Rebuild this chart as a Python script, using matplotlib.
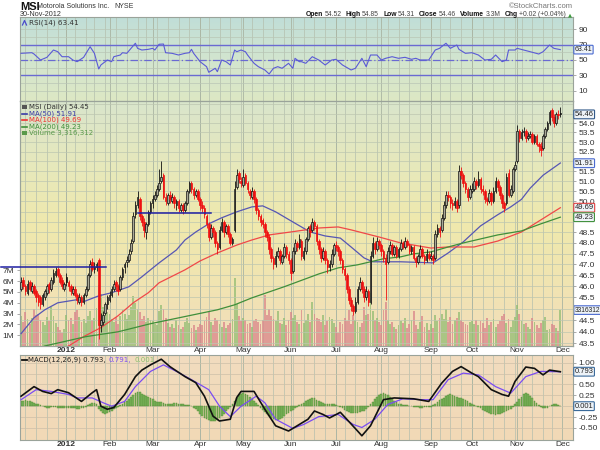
import numpy as np
import pandas as pd
import matplotlib
matplotlib.use('Agg')
import matplotlib.pyplot as plt
from matplotlib.patches import Rectangle
from matplotlib.lines import Line2D
from matplotlib.ticker import NullLocator

# ---- data (one value per trading day, Dec 2011 .. Nov 2012) ----
holidays = ['2011-12-26', '2012-01-02', '2012-01-16', '2012-02-20', '2012-04-06', '2012-05-28',
            '2012-07-04', '2012-09-03', '2012-10-29', '2012-10-30', '2012-11-22']

opens = [
    45.9, 46.3, 46.0, 45.7, 46.2, 45.8, 46.0, 45.8, 45.6, 45.5, 45.2, 45.5, 45.7, 46.1, 45.9, 46.2, 46.5, 46.8, 46.5, 46.3, 45.9,
    46.4, 46.2, 46.0, 45.7, 45.9, 45.6, 45.3, 45.5, 45.3, 45.6, 45.9, 46.5, 47.1, 46.8, 46.9, 47.2, 44.3, 44.4, 44.8, 45.2,
    45.4, 45.6, 45.9, 46.2, 46.0, 45.9, 46.4, 46.9, 47.1, 47.2, 47.6, 48.1, 49.4, 49.8, 50.1, 49.3, 49.0, 48.5, 48.9, 49.5,
    49.9, 50.1, 50.3, 50.6, 51.0, 51.3, 50.2, 49.9, 50.3, 50.0, 50.2, 49.8, 50.0, 49.6, 49.8, 49.6, 49.9, 50.5, 50.9, 50.6, 50.3, 50.5,
    50.1, 49.8, 49.7, 49.3, 48.9, 48.3, 48.7, 48.5, 48.0, 47.8, 48.6, 49.0, 48.5, 48.8, 48.4, 48.0, 48.6, 50.7, 51.4, 51.0,
    50.8, 51.3, 50.9, 50.5, 50.2, 50.5, 50.1, 49.6, 49.3, 49.1, 48.9, 48.5, 48.3, 47.7, 47.3, 47.0, 47.4, 47.6, 47.1, 47.4, 47.8, 47.5,
    47.2, 46.7, 47.6, 48.0, 47.8, 48.1, 47.3, 47.6, 48.2, 48.8, 48.6, 49.0, 48.8, 48.1, 47.7, 47.3, 47.6, 47.2, 46.9, 47.0, 47.5,
    47.9, 47.8, 47.6, 47.2, 46.8, 46.5, 45.9, 45.4, 45.1, 44.9, 45.3, 45.9, 46.2, 45.9, 45.5, 45.8, 45.3, 47.4, 48.0, 47.7, 48.1,
    47.9, 47.6, 47.3, 47.1, 47.6, 47.9, 47.5, 47.8, 47.4, 47.7, 48.0, 47.8, 48.1, 47.9, 47.6, 47.8, 47.3, 47.1, 47.4, 47.7, 47.4, 47.2, 47.5,
    47.3, 47.4, 47.3, 48.4, 48.7, 48.6, 49.2, 49.8, 50.3, 50.2, 49.9, 49.8, 50.0, 49.8, 51.5, 51.3, 50.9, 50.6, 50.2,
    50.5, 50.6, 51.0, 50.8, 51.1, 50.6, 50.5, 50.1, 50.0, 50.4, 50.0, 50.5, 51.0, 50.7, 50.3, 49.9, 49.9, 51.4, 50.3, 50.5, 51.6,
    52.0, 53.6, 53.2, 53.5, 53.6, 53.2, 53.3, 53.4, 53.0, 53.3, 52.9, 52.8, 52.7, 53.3, 53.7, 54.0, 54.7, 54.3, 54.0, 54.5, 54.52,
]
highs = [
    46.4, 46.4, 46.1, 46.3, 46.3, 46.2, 46.1, 45.9, 45.7, 45.6, 45.7, 45.9, 46.1, 46.2, 46.4, 46.8, 46.9, 46.9, 46.6, 46.4, 46.2,
    46.6, 46.3, 46.1, 46.0, 46.0, 45.7, 45.7, 45.6, 45.7, 46.0, 46.6, 47.2, 47.3, 47.1, 47.1, 47.3, 44.8, 44.9, 45.3, 45.6,
    45.8, 46.0, 46.3, 46.3, 46.1, 46.5, 46.9, 47.1, 47.4, 47.7, 48.2, 49.5, 50.0, 50.5, 50.2, 49.4, 49.2, 49.0, 49.6, 50.0,
    50.3, 50.5, 50.8, 51.6, 52.0, 51.4, 50.4, 50.4, 50.5, 50.4, 50.3, 50.1, 50.1, 49.9, 49.9, 50.0, 50.6, 51.0, 51.0, 50.7, 50.6, 50.6,
    50.2, 50.0, 49.8, 49.4, 49.0, 48.9, 48.8, 48.6, 48.1, 48.8, 49.2, 49.1, 48.9, 48.9, 48.5, 48.3, 51.0, 51.6, 51.5, 51.2,
    51.6, 51.4, 51.0, 50.6, 50.7, 50.6, 50.2, 49.7, 49.4, 49.2, 49.0, 48.6, 48.4, 47.8, 47.4, 47.6, 47.8, 47.7, 47.5, 48.0, 47.9, 47.6,
    47.3, 47.8, 48.2, 48.1, 48.4, 48.2, 47.8, 48.3, 48.8, 48.9, 49.2, 49.1, 48.9, 48.2, 47.8, 47.8, 47.7, 47.3, 47.2, 47.7, 48.0,
    48.1, 47.9, 47.7, 47.3, 46.9, 46.6, 46.0, 45.5, 45.2, 45.5, 46.0, 46.4, 46.3, 46.0, 46.0, 45.9, 47.6, 48.3, 48.1, 48.3, 48.2,
    48.0, 47.7, 47.5, 47.8, 48.1, 48.0, 47.9, 47.9, 47.8, 48.2, 48.1, 48.3, 48.2, 48.0, 47.9, 47.9, 47.4, 47.5, 47.9, 47.8, 47.5, 47.7, 47.6,
    47.6, 47.5, 48.6, 48.9, 48.8, 49.4, 50.0, 50.5, 50.5, 50.3, 50.1, 50.2, 50.1, 51.8, 51.7, 51.4, 51.0, 50.7, 50.8,
    50.9, 51.2, 51.1, 51.5, 51.2, 50.8, 50.6, 50.2, 50.6, 50.5, 50.7, 51.2, 51.1, 50.8, 50.4, 50.0, 51.4, 51.6, 50.8, 51.7, 52.0,
    53.9, 53.7, 53.7, 53.8, 53.7, 53.5, 53.6, 53.5, 53.4, 53.4, 53.0, 53.0, 53.4, 53.8, 54.1, 54.7, 54.8, 54.5, 54.6, 54.7, 54.85,
]
lows = [
    45.8, 45.9, 45.6, 45.6, 45.8, 45.7, 45.6, 45.3, 45.1, 45.0, 45.1, 45.4, 45.6, 45.7, 45.8, 46.1, 46.4, 46.4, 46.1, 45.9, 45.8,
    46.0, 45.8, 45.6, 45.6, 45.5, 45.2, 45.2, 45.1, 45.2, 45.5, 45.8, 46.4, 46.7, 46.6, 46.7, 43.7, 44.0, 44.3, 44.7, 45.0,
    45.3, 45.5, 45.8, 45.8, 45.6, 45.8, 46.3, 46.6, 46.9, 47.1, 47.5, 48.0, 49.2, 49.7, 49.1, 48.8, 48.3, 48.2, 48.8, 49.4,
    49.7, 50.0, 50.2, 50.5, 50.9, 50.1, 49.8, 49.8, 49.9, 49.9, 49.7, 49.6, 49.5, 49.5, 49.4, 49.5, 49.8, 50.4, 50.4, 50.1, 50.2, 50.0,
    49.6, 49.5, 49.2, 48.7, 48.1, 48.2, 48.3, 47.8, 47.5, 47.7, 48.5, 48.3, 48.4, 48.3, 47.9, 47.9, 48.5, 50.6, 50.9, 50.7,
    50.7, 50.8, 50.4, 50.1, 50.1, 49.9, 49.4, 49.1, 48.8, 48.7, 48.3, 48.1, 47.5, 47.1, 46.8, 46.9, 47.3, 47.0, 47.0, 47.3, 47.3, 47.0,
    46.3, 46.6, 47.5, 47.6, 47.7, 47.2, 47.2, 47.5, 48.1, 48.3, 48.5, 48.6, 47.9, 47.5, 47.1, 47.2, 47.0, 46.6, 46.7, 46.9, 47.4,
    47.6, 47.4, 47.0, 46.6, 46.3, 45.7, 45.2, 44.9, 44.7, 44.8, 45.2, 45.8, 45.7, 45.3, 45.4, 45.1, 45.2, 47.3, 47.5, 47.6, 47.7,
    47.4, 47.1, 45.4, 47.0, 47.5, 47.4, 47.4, 47.3, 47.3, 47.6, 47.7, 47.7, 47.8, 47.5, 47.5, 47.2, 46.9, 47.0, 47.3, 47.3, 47.0, 47.1, 47.2,
    47.2, 47.0, 47.2, 48.3, 48.3, 48.5, 49.1, 49.7, 50.0, 49.7, 49.6, 49.7, 49.5, 49.7, 51.1, 50.7, 50.4, 50.0, 50.1,
    50.4, 50.5, 50.6, 50.7, 50.4, 50.3, 49.9, 49.8, 49.9, 49.8, 49.9, 50.4, 50.5, 50.1, 49.7, 49.5, 49.8, 50.2, 50.2, 50.4, 51.5,
    51.9, 53.0, 53.1, 53.3, 53.0, 53.1, 53.2, 52.9, 52.9, 52.8, 52.5, 52.3, 52.6, 53.2, 53.6, 53.9, 54.1, 53.8, 53.9, 54.2, 54.31,
]
closes = [
    46.2, 46.0, 45.8, 46.1, 45.9, 46.0, 45.7, 45.5, 45.3, 45.2, 45.6, 45.8, 46.0, 45.9, 46.3, 46.6, 46.7, 46.5, 46.2, 46.0, 46.1,
    46.2, 46.0, 45.8, 45.9, 45.6, 45.4, 45.5, 45.3, 45.6, 45.9, 46.5, 47.0, 46.8, 46.9, 47.0, 44.3, 44.5, 44.7, 45.2, 45.5,
    45.6, 45.9, 46.1, 46.0, 45.8, 46.4, 46.8, 47.0, 47.2, 47.5, 48.0, 49.3, 49.8, 50.2, 49.3, 49.0, 48.6, 48.9, 49.5, 49.9,
    50.1, 50.3, 50.6, 50.9, 51.2, 50.2, 50.0, 50.3, 50.1, 50.2, 49.9, 50.0, 49.7, 49.8, 49.6, 49.9, 50.5, 50.9, 50.6, 50.3, 50.5, 50.1,
    49.8, 49.7, 49.4, 48.9, 48.3, 48.7, 48.5, 48.0, 47.7, 48.6, 49.0, 48.5, 48.8, 48.4, 48.0, 48.2, 50.6, 51.3, 51.1, 50.9,
    51.2, 50.9, 50.6, 50.3, 50.5, 50.1, 49.6, 49.3, 49.0, 48.9, 48.5, 48.3, 47.7, 47.3, 47.0, 47.4, 47.6, 47.2, 47.4, 47.8, 47.5, 47.2,
    46.6, 47.6, 48.0, 47.8, 48.2, 47.4, 47.6, 48.2, 48.7, 48.5, 49.0, 48.8, 48.1, 47.7, 47.3, 47.6, 47.2, 46.9, 47.0, 47.5, 47.9,
    47.8, 47.6, 47.2, 46.8, 46.5, 45.9, 45.4, 45.1, 44.9, 45.3, 45.9, 46.2, 45.9, 45.5, 45.8, 45.3, 47.4, 48.0, 47.7, 48.1, 47.9,
    47.6, 47.3, 47.0, 47.6, 47.9, 47.5, 47.8, 47.4, 47.7, 48.0, 47.8, 48.1, 47.9, 47.6, 47.8, 47.3, 47.1, 47.4, 47.7, 47.4, 47.2, 47.5, 47.3,
    47.4, 47.2, 48.4, 48.7, 48.5, 49.2, 49.8, 50.3, 50.2, 49.9, 49.8, 50.0, 49.7, 51.5, 51.3, 50.9, 50.6, 50.2, 50.6,
    50.6, 51.0, 50.8, 51.1, 50.6, 50.5, 50.1, 50.0, 50.4, 50.0, 50.5, 51.0, 50.7, 50.3, 49.9, 49.7, 51.2, 50.3, 50.6, 51.6, 51.8,
    53.6, 53.2, 53.5, 53.6, 53.2, 53.3, 53.4, 53.0, 53.3, 52.9, 52.8, 52.6, 53.3, 53.7, 54.0, 54.6, 54.3, 54.0, 54.5, 54.44, 54.46,
]
volume_m = [
    2.8, 2.2, 3.1, 2.5, 2.0, 2.6, 3.4, 2.9, 3.0, 2.4, 2.2, 1.9, 2.7, 2.3, 3.6, 2.8, 2.1, 1.8, 1.5, 1.2, 1.6,
    2.9, 2.4, 2.6, 2.0, 3.1, 3.3, 2.7, 2.2, 2.5, 2.1, 2.8, 3.2, 2.4, 2.6, 3.5, 5.6, 4.8, 3.6, 2.9, 3.1,
    3.0, 2.5, 2.2, 2.7, 2.0, 2.8, 3.3, 3.0, 2.5, 2.9, 3.6, 4.6, 4.0, 3.4, 3.1, 2.5, 2.8, 2.2, 2.6, 2.4,
    2.3, 2.0, 1.9, 3.2, 3.8, 3.4, 2.6, 2.1, 1.8, 2.0, 1.7, 2.4, 1.9, 1.6, 1.8, 2.2, 2.6, 2.1, 1.7, 1.9, 1.5, 1.8,
    2.0, 1.9, 2.3, 2.7, 3.1, 2.2, 1.9, 2.6, 2.4, 2.0, 1.8, 2.2, 1.7, 1.9, 2.1, 2.5, 6.3, 3.9, 2.8, 2.3,
    2.6, 2.4, 2.0, 2.1, 1.8, 2.3, 2.5, 2.2, 2.0, 2.4, 4.7, 2.9, 3.4, 2.8, 2.5, 2.3, 3.2, 2.1, 2.0, 2.6, 1.9, 2.4,
    3.1, 2.6, 2.9, 2.2, 2.0, 3.3, 2.1, 2.4, 3.0, 2.2, 4.1, 3.0, 2.6, 2.5, 2.2, 2.9, 1.9, 2.3, 2.7, 2.5, 2.1,
    1.8, 1.2, 2.2, 2.0, 2.6, 2.3, 3.3, 2.0, 2.9, 2.4, 2.2, 1.8, 2.1, 3.6, 2.9, 3.0, 4.9, 3.2, 2.4, 2.6, 2.2,
    1.9, 3.3, 4.1, 2.4, 2.0, 2.2, 1.8, 1.6, 1.9, 2.3, 2.1, 2.6, 1.7, 2.0, 2.4, 3.2, 1.9, 1.6, 2.2, 2.8, 1.8, 2.1, 1.5,
    2.0, 1.7, 2.9, 2.3, 2.6, 3.0, 2.5, 3.4, 2.2, 2.7, 2.0, 2.4, 2.6, 3.1, 2.4, 2.2, 2.0, 1.9, 2.2,
    2.3, 2.0, 2.4, 1.9, 2.3, 2.1, 1.7, 2.6, 1.9, 2.2, 2.5, 1.8, 2.0, 2.3, 2.8, 3.0, 2.1, 2.5, 1.8, 2.4, 2.7,
    3.8, 3.0, 2.3, 2.0, 2.1, 1.8, 1.6, 2.6, 2.2, 1.9, 1.7, 2.1, 2.4, 2.7, 1.5, 1.6, 2.0, 1.9, 1.7, 1.4, 3.316,
]
macd_hist = [
    0.12, 0.13, 0.14, 0.13, 0.11, 0.10, 0.08, 0.06, 0.04,
    0.02, 0.0, -0.02, -0.03, -0.03, -0.02, -0.01, -0.02, -0.03, -0.04, -0.05, -0.05, -0.04, -0.03, -0.03, -0.04, -0.05,
    -0.06, -0.06, -0.05, -0.03, -0.01, 0.02, 0.05, 0.07, 0.08,
    0.06, -0.06, -0.12, -0.16, -0.17, -0.15, -0.13, -0.10, -0.07, -0.04, -0.01,
    0.03, 0.06, 0.09, 0.12, 0.16, 0.21, 0.26, 0.30, 0.33, 0.32, 0.29, 0.26, 0.24, 0.22, 0.19, 0.16, 0.13,
    0.10, 0.09, 0.10, 0.08, 0.06, 0.05, 0.05, 0.06, 0.07, 0.07, 0.06, 0.05, 0.04, 0.02,
    0.03, 0.02, 0.0, -0.03, -0.07, -0.12, -0.17, -0.22,
    -0.26, -0.29, -0.31, -0.33, -0.34, -0.33, -0.31, -0.27, -0.22, -0.17, -0.12, -0.07,
    -0.02, 0.05, 0.13, 0.20, 0.25, 0.28, 0.30, 0.28, 0.25, 0.22, 0.17, 0.12, 0.07, 0.02, -0.03, -0.08,
    -0.13, -0.18, -0.22, -0.26, -0.29, -0.31, -0.32, -0.30, -0.27, -0.23, -0.19, -0.15, -0.12, -0.08, -0.04, -0.01, 0.02, 0.05,
    0.08, 0.11, 0.14, 0.17, 0.19, 0.18, 0.15, 0.12, 0.09, 0.07, 0.06, 0.05, 0.05, 0.04, 0.04,
    0.03, 0.01, -0.02, -0.05, -0.08, -0.11, -0.13, -0.15, -0.16, -0.16, -0.15, -0.14, -0.12, -0.10, -0.06,
    -0.02, 0.04, 0.10, 0.16, 0.21, 0.25, 0.28, 0.30, 0.28, 0.25, 0.21, 0.17, 0.13, 0.09, 0.06,
    0.04, 0.03, 0.02, 0.02, 0.01, 0.0, -0.01, -0.02, -0.02, -0.03, -0.03, -0.02, -0.02, -0.01, -0.01,
    0.02, 0.06, 0.10, 0.14, 0.17, 0.20, 0.23, 0.25, 0.27, 0.26, 0.24, 0.22, 0.20, 0.19, 0.17, 0.14, 0.11, 0.08,
    0.05, 0.03, 0.01, -0.02, -0.05, -0.08, -0.11, -0.14, -0.16, -0.18, -0.19, -0.20, -0.19, -0.17, -0.16, -0.14, -0.11, -0.09, -0.06, -0.02,
    0.04, 0.10, 0.16, 0.22, 0.27, 0.30, 0.28, 0.24, 0.19, 0.13,
    0.07, 0.02, -0.02, -0.04, -0.05, -0.03, 0.0, 0.03, 0.05, 0.04, 0.02, 0.001,
]

# moving averages, RSI and MACD lines read at (trading-day index, value)
ma50_i = [0, 6, 11, 17, 26, 29, 36, 42, 50, 56, 60, 64, 72, 76, 81, 87, 93, 100, 107, 112, 118, 125,
          134, 141, 148, 153, 159, 163, 176, 191, 198, 205, 213, 221, 227, 232, 236, 242, 250]
ma50_v = [43.91, 44.60, 44.95, 45.26, 45.40, 45.31, 45.57, 45.71, 45.98, 46.43, 46.75, 47.07, 47.67, 48.14,
          48.52, 48.91, 49.20, 49.49, 49.73, 49.78, 49.49, 49.06, 48.52, 48.33, 48.23, 47.81, 47.30, 47.12,
          47.12, 47.07, 47.53, 48.05, 48.81, 49.35, 49.73, 50.10, 50.65, 51.30, 51.92]
ma100_i = [16, 22, 29, 37, 45, 52, 59, 64, 76, 83, 91, 100, 107, 115, 125, 138, 147, 153, 166, 176,
           182, 190, 198, 210, 221, 232, 241, 250]
ma100_v = [43.14, 43.38, 43.78, 44.17, 44.69, 45.26, 45.71, 46.16, 46.75, 47.16, 47.53, 47.90, 48.14,
           48.38, 48.52, 48.71, 48.76, 48.62, 48.28, 48.00, 47.90, 47.76, 47.81, 47.81, 48.09, 48.52,
           49.10, 49.69]
ma200_i = [7, 11, 30, 45, 60, 91, 99, 107, 122, 138, 147, 156, 168, 176, 182, 190, 198, 205, 213,
           221, 232, 241, 250]
ma200_v = [43.22, 43.38, 43.78, 43.99, 44.34, 44.95, 45.17, 45.48, 45.98, 46.56, 46.84, 46.98, 47.26,
           47.35, 47.49, 47.58, 47.81, 48.00, 48.19, 48.38, 48.57, 48.91, 49.23]

rsi_i = [0, 5, 6, 9, 12, 15, 17, 19, 22, 24, 26, 29, 32, 33, 34, 36, 37, 40, 42, 43,
         46, 47, 49, 53, 54, 56, 59, 61, 62, 64, 66, 67, 70, 73, 76, 78, 79, 80, 83, 86,
         87, 90, 91, 93, 95, 97, 99, 100, 102, 104, 105, 108, 110, 113, 115, 117, 119, 121, 124, 126,
         127, 129, 130, 132, 135, 138, 141, 144, 146, 149, 153, 155, 158, 160, 162, 165, 167, 169, 172, 175,
         178, 181, 183, 185, 189, 192, 194, 197, 199, 202, 203, 206, 209, 212, 215, 218, 220, 223, 225, 226,
         229, 230, 233, 236, 240, 242, 245, 247, 250]
rsi_v = [58.6, 59.4, 57.7, 49.9, 53.4, 62.9, 60.7, 54.2, 54.2, 49.9, 47.7, 53.4, 67.2, 62.9, 58.6, 38.2, 43.4, 49.9, 47.7, 54.2,
         56.4, 59.4, 58.6, 71.7, 65.1, 62.9, 63.8, 65.1, 62.9, 70.4, 70.7, 59.4, 58.6, 56.4, 58.6, 59.4, 63.8, 58.6, 47.7, 41.2,
         33.9, 39.1, 34.7, 49.9, 47.7, 43.4, 62.9, 60.7, 62.9, 60.7, 56.4, 45.6, 41.2, 36.9, 31.7, 39.1, 41.2, 39.1, 45.6, 39.1,
         52.1, 47.7, 47.7, 45.6, 54.2, 49.9, 43.4, 49.9, 50.8, 43.4, 36.9, 39.1, 52.1, 41.2, 56.4, 56.4, 49.9, 52.1, 54.2, 52.1,
         53.4, 50.8, 52.1, 49.9, 49.9, 62.9, 65.1, 71.7, 65.1, 69.4, 63.8, 58.6, 59.4, 56.4, 49.9, 50.8, 56.4, 47.7, 49.9, 62.9,
         62.9, 65.1, 62.9, 60.7, 57.7, 60.7, 69.4, 65.1, 63.41]

macd_i = [0, 6, 10, 14, 17, 22, 28, 33, 35, 37, 40, 43, 48, 53, 56, 60, 65, 69, 76, 81,
          85, 89, 92, 97, 100, 102, 108, 113, 118, 124, 128, 133, 136, 140, 143, 148, 151, 156, 158, 162,
          165, 168, 173, 182, 189, 195, 200, 204, 209, 212, 218, 223, 226, 229, 234, 238, 242, 245, 250]
macd_v = [0.23, 0.45, 0.34, 0.29, 0.38, 0.31, 0.11, 0.31, 0.38, 0.0, -0.07, -0.03, 0.27, 0.68, 0.83, 0.95, 1.08, 0.91, 0.68, 0.54,
          0.23, -0.23, -0.34, -0.30, 0.20, 0.34, 0.34, -0.07, -0.45, -0.57, -0.45, -0.30, -0.11, -0.19, -0.27, -0.14, -0.30, -0.57, -0.68, -0.45,
          -0.15, 0.15, 0.19, 0.17, 0.11, 0.53, 0.80, 0.91, 0.76, 0.68, 0.38, 0.27, 0.23, 0.57, 0.90, 0.87, 0.72, 0.83, 0.793]
sig_i = [0, 7, 14, 22, 26, 33, 38, 42, 48, 53, 60, 66, 72, 79, 87, 92, 97, 102, 109, 113,
         118, 126, 131, 138, 147, 154, 158, 164, 170, 177, 186, 191, 198, 205, 212, 220, 227, 234, 241, 250]
sig_v = [0.15, 0.38, 0.34, 0.27, 0.19, 0.19, 0.08, 0.0, 0.11, 0.45, 0.80, 0.95, 0.80, 0.61, 0.38, 0.0, -0.24, 0.0, 0.23, 0.08,
         -0.30, -0.51, -0.42, -0.24, -0.19, -0.42, -0.49, -0.30, 0.04, 0.17, 0.15, 0.15, 0.61, 0.76, 0.72, 0.45, 0.30, 0.68, 0.80, 0.791]

# tick labels that sit under the last-value boxes are not printed (the boxes hide them)
price_ticks = [43.5, 44.0, 44.5, 45.5, 46.0, 46.5, 47.0, 47.5, 48.0, 48.5, 50.0, 50.5, 51.0, 51.5,
               52.5, 53.0, 53.5, 54.0]
vol_ticks = [1, 2, 3, 4, 5, 6, 7]
rsi_ticks = [10, 30, 50, 70, 90]
macd_ticks = [-0.5, -0.25, 0.25, 0.5, 1.0]
price_grid = np.arange(43.5, 55.01, 0.5)
macd_grid = [-0.5, -0.25, 0.0, 0.25, 0.5, 0.75, 1.0]

# ---- layout helpers (pixel positions of the 600x450 picture) ----
W, H = 600, 450
LEFT, RIGHT = 20, 573


def fx(x):
    return x / W


def fy(y):
    return 1 - y / H


def rect(top, bottom):
    return [fx(LEFT), fy(bottom), (RIGHT - LEFT) / W, (bottom - top) / H]


def gradient(ax, stops):
    cols = np.array([matplotlib.colors.to_rgb(c) for c in stops])
    t = np.linspace(0, 1, 200)
    pos = np.linspace(0, 1, len(stops))
    img = np.stack([np.interp(t, pos, cols[:, k]) for k in range(3)], axis=-1)[:, None, :]
    ax.imshow(img, extent=[0, 1, 0, 1], transform=ax.transAxes, aspect='auto', zorder=0,
              interpolation='bilinear')


def value_box(ax, y, txt, ec, size=5.4):
    ax.text(1.003, y, txt, transform=ax.get_yaxis_transform(), fontsize=size,
            va='center', ha='left', color='#222',
            bbox=dict(boxstyle='round,pad=0.12', fc='#eef3f8', ec=ec, lw=0.8),
            clip_on=False, zorder=20)


def text_run(x0, y, parts, size, family=None, end=None):
    # lay words out one after another, measuring each one
    r = fig.canvas.get_renderer()
    x = x0
    made = []
    for txt, color, weight, gap in parts:
        t = fig.text(fx(x), fy(y), txt, fontsize=size, color=color, weight=weight,
                     va='center', family=family or plt.rcParams['font.family'])
        made.append(t)
        w = t.get_window_extent(renderer=r).width
        x += w + gap
    if end is not None:
        shift = end - (x - gap)
        for t in made:
            px, py = t.get_position()
            t.set_position((px + shift / W, py))


dates = pd.bdate_range('2011-12-01', '2012-11-30')
dates = dates[~dates.isin(pd.to_datetime(holidays))]
n = len(dates)
idx = np.arange(n)

month_pos, month_lab = [], []
week_pos = []
for i in range(1, n):
    if dates[i].month != dates[i - 1].month:
        month_pos.append(i)
        month_lab.append('2012' if dates[i].month == 1 else dates[i].strftime('%b'))
    if dates[i].weekday() < dates[i - 1].weekday():
        week_pos.append(i)
month_pos.append(n)
month_lab.append('Dec')

plt.rcParams['font.family'] = ['Liberation Sans', 'DejaVu Sans']
fig = plt.figure(figsize=(6, 4.5), dpi=100)
fig.patch.set_facecolor('white')

ax_rsi = fig.add_axes(rect(17, 101))
ax_vol = fig.add_axes(rect(101, 346), sharex=ax_rsi)
ax_px = ax_vol.twinx()
ax_macd = fig.add_axes(rect(355, 440), sharex=ax_rsi)

gradient(ax_rsi, ['#c0ded8', '#d2e5cf', '#dde8c4'])
gradient(ax_vol, ['#d9e5cc', '#e6e8bc', '#efe9ad', '#f1e4b2', '#f2ddbb'])
gradient(ax_macd, ['#f1dcbf', '#f2d9b6'])
ax_px.patch.set_visible(False)

xlo, xhi = -0.5, (RIGHT - LEFT) / 2.157 - 0.5
for a in (ax_rsi, ax_vol, ax_macd):
    for i in week_pos:
        a.axvline(i, color='#b4bfae', lw=0.5, zorder=0.5)
    for i in month_pos:
        a.axvline(i, color='#a9b4a2', lw=0.6, zorder=0.5)
for a in (ax_rsi, ax_vol, ax_px, ax_macd):
    for s in a.spines.values():
        s.set_color('#9aa39a')
        s.set_linewidth(0.8)
    a.tick_params(length=2, width=0.5, color='#888', labelsize=6.0, labelcolor='#333', pad=2)

# ---- RSI ----
for v in [10, 20, 30, 40, 50, 60, 70, 80, 90]:
    ax_rsi.axhline(v, color='#b9c6b6', lw=0.5, zorder=0.5)
ax_rsi.axhline(70, color='#6a6ad2', lw=1.0, zorder=2)
ax_rsi.axhline(30, color='#6a6ad2', lw=1.0, zorder=2)
ax_rsi.axhline(50, color='#6a6ad2', lw=0.9, ls=(0, (6, 2, 1, 2)), zorder=2)
ax_rsi.plot(rsi_i, rsi_v, color='#5a5ad6', lw=0.8, zorder=3)
ax_rsi.set_ylim(-3.5, 105.9)
ax_rsi.yaxis.tick_right()
ax_rsi.set_yticks(rsi_ticks)
ax_rsi.set_yticklabels([str(v) for v in rsi_ticks])
ax_rsi.tick_params(labelbottom=False, bottom=False)
value_box(ax_rsi, 63.41, '63.41', '#4a6ad0', size=5.0)
fig.text(fx(29), fy(22.5), 'RSI(14) 63.41', fontsize=5.2, family='DejaVu Sans', color='#333', va='center')
fig.lines.append(Line2D([fx(22.5), fx(24.5), fx(26.5)], [fy(25), fy(20.5), fy(25)],
                        color='#4a4acc', lw=0.9, transform=fig.transFigure))

# ---- price + volume ----
up_close = [True] + [closes[i] >= closes[i - 1] for i in range(1, n)]
vol_cols = ['#93bd73' if u else '#d9868a' for u in up_close]
ax_vol.bar(idx, volume_m, width=0.85, color=vol_cols, alpha=0.75, zorder=1, lw=0)
ax_vol.set_ylim(0, 245 / 10.83)
ax_vol.set_yticks(vol_ticks)
ax_vol.set_yticklabels([f'{v}M' for v in vol_ticks])
ax_vol.yaxis.tick_left()
value_box(ax_vol, 3.316, '3316312', '#4a6ad0', size=4.8)

for p in price_grid:
    ax_px.axhline(p, color='#bdc6b0', lw=0.5, zorder=0.5)
for i in range(n):
    o, h, l, c = opens[i], highs[i], lows[i], closes[i]
    col = '#111111' if up_close[i] else '#ee1111'
    ax_px.vlines(i, l, h, color=col, lw=0.6, zorder=4)
    b0, b1 = min(o, c), max(o, c)
    ax_px.add_patch(Rectangle((i - 0.38, b0), 0.76, max(b1 - b0, 0.03),
                              facecolor='#a8a898' if c > o else col, edgecolor=col,
                              lw=0.5, zorder=5))
ax_px.plot(ma50_i, ma50_v, color='#5656b4', lw=0.9, zorder=3)
ax_px.plot(ma100_i, ma100_v, color='#f04848', lw=0.9, zorder=3)
ax_px.plot(ma200_i, ma200_v, color='#3f8f3a', lw=0.9, zorder=3)
ax_px.plot([-9.3, 39.5], [46.88, 46.88], color='#1f1fa3', lw=1.1, zorder=6, clip_on=False)
ax_px.plot([54, 88], [49.44, 49.44], color='#1f1fa3', lw=1.1, zorder=6)
ax_px.set_yscale('log')
ax_px.set_ylim(43.38, 55.18)
ax_px.set_yticks(price_ticks)
ax_px.set_yticklabels([f'{p:.1f}' for p in price_ticks])
ax_px.yaxis.set_minor_locator(NullLocator())
value_box(ax_px, 54.46, '54.46', '#335a8a')
value_box(ax_px, 51.91, '51.91', '#4a6ad0')
value_box(ax_px, 49.69, '49.69', '#e04040')
value_box(ax_px, 49.23, '49.23', '#3f8f3a')

legend = [('MSI (Daily) 54.45', '#333333'), ('MA(50) 51.91', '#3c3ca8'), ('MA(100) 49.69', '#f03030'),
          ('MA(200) 49.23', '#3f8f3a'), ('Volume 3,316,312', '#5a9a4a')]
for k, (txt, col) in enumerate(legend):
    y = 107 + k * 6.5
    fig.text(fx(29), fy(y), txt, fontsize=5.0, family='DejaVu Sans', color=col, va='center')
    if 1 <= k <= 3:
        fig.lines.append(Line2D([fx(22), fx(27.5)], [fy(y), fy(y)], color=col, lw=1.2,
                                transform=fig.transFigure))
fig.patches.append(Rectangle((fx(22), fy(109)), 5 / W, 4 / H, transform=fig.transFigure,
                             fc='#555', ec='none'))
fig.patches.append(Rectangle((fx(22), fy(135)), 5 / W, 4 / H, transform=fig.transFigure,
                             fc='#5a9a4a', ec='none'))

# ---- MACD ----
for v in macd_grid:
    ax_macd.axhline(v, color='#cdbfa8', lw=0.5, zorder=0.5)
ax_macd.bar(idx, macd_hist, width=0.8, color='#7cb45a', edgecolor='#4f8a34', lw=0.3, zorder=2)
ax_macd.plot(sig_i, sig_v, color='#7a4cf2', lw=0.9, zorder=3)
ax_macd.plot(macd_i, macd_v, color='#111111', lw=1.2, zorder=4)
ax_macd.set_ylim(-0.777, 1.177)
ax_macd.yaxis.tick_right()
ax_macd.set_yticks(macd_ticks)
ax_macd.set_yticklabels([f'{v:.2f}' for v in macd_ticks])
value_box(ax_macd, 0.793, '0.793', '#3a6a9a')
value_box(ax_macd, 0.001, '0.001', '#3a6a9a')
fig.lines.append(Line2D([fx(22), fx(27)], [fy(360), fy(360)], color='#111', lw=1.3,
                        transform=fig.transFigure))
text_run(28, 360, [('MACD(12,26,9) 0.793,', '#222', 'normal', 3), ('0.791,', '#7a4cf2', 'normal', 3),
                   ('0.001', '#8cc06a', 'normal', 0)], 5.0, family='DejaVu Sans')

# ---- x axes ----
ax_rsi.set_xlim(xlo, xhi)
ax_vol.set_xticks(month_pos)
ax_vol.set_xticklabels(month_lab)
for a in (ax_vol, ax_macd):
    a.tick_params(axis='x', labelbottom=True, length=0, pad=1, labelsize=6.0)
    for t in a.get_xticklabels():
        if t.get_text() == '2012':
            t.set_fontweight('bold')

# ---- header ----
text_run(20, 6.5, [('MSI', '#111', 'bold', 2)], 8.0)
text_run(37, 7, [('Motorola Solutions Inc.', '#333', 'normal', 5), ('NYSE', '#333', 'normal', 0)], 5.0)
fig.text(fx(20), fy(14.5), '30-Nov-2012', fontsize=5.2, va='center', color='#333')
fig.text(fx(573), fy(6), '©StockCharts.com', fontsize=5.5, ha='right', va='center', color='#777')
text_run(309, 14.5, [('Open', '#111', 'bold', 1.5), ('54.52', '#444', 'normal', 4),
                     ('High', '#111', 'bold', 1.5), ('54.85', '#444', 'normal', 4),
                     ('Low', '#111', 'bold', 1.5), ('54.31', '#444', 'normal', 4),
                     ('Close', '#111', 'bold', 1.5), ('54.46', '#444', 'normal', 4),
                     ('Volume', '#111', 'bold', 1.5), ('3.3M', '#444', 'normal', 4),
                     ('Chg', '#111', 'bold', 1.5), ('+0.02 (+0.04%)', '#444', 'normal', 0)],
         4.9, end=566)
fig.text(fx(568), fy(14.5), '▲', fontsize=3.8, va='center', color='#3a9a3a', family='DejaVu Sans')

fig.savefig('out.png', dpi=100)
